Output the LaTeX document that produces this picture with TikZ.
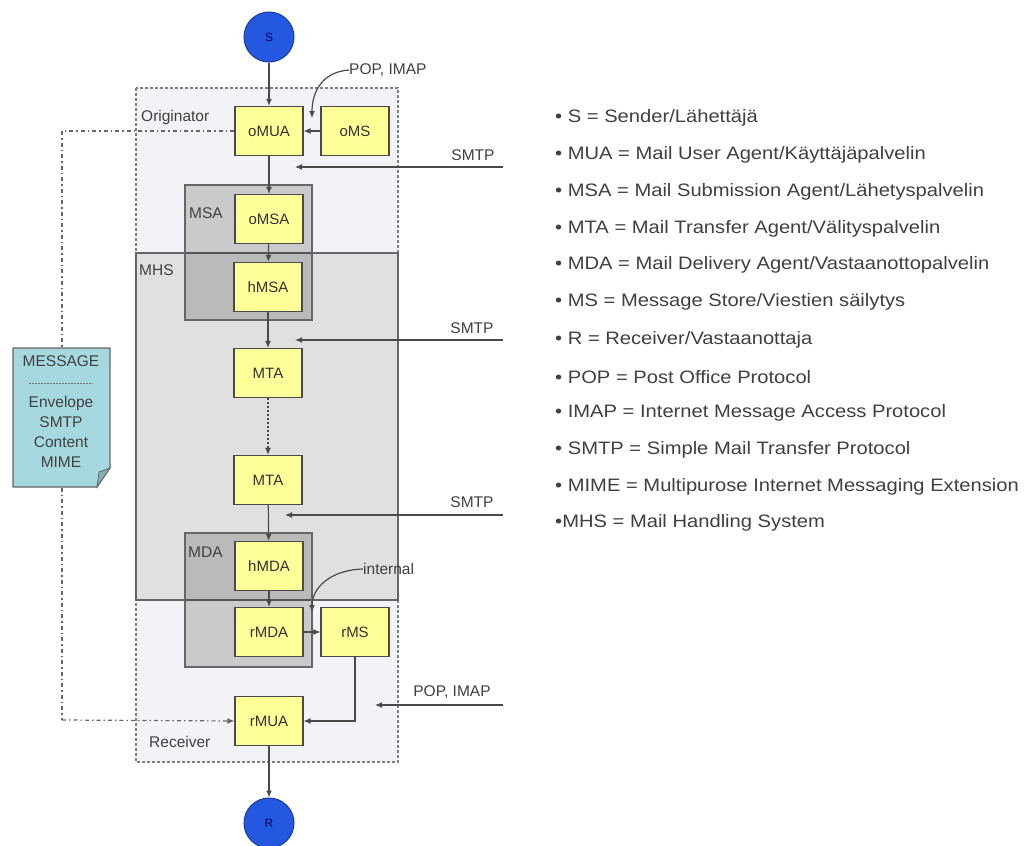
\documentclass[tikz,border=0pt]{standalone}
\usepackage{fontspec}
\setmainfont{Liberation Sans}
\newfontfamily\legendfont{Liberation Sans}[FakeStretch=1.12]
\usetikzlibrary{arrows.meta,calc}
\definecolor{boxy}{HTML}{FFFF99}
\definecolor{edgec}{HTML}{4A4A4A}
\definecolor{origfill}{HTML}{F3F3F7}
\definecolor{mhsfill}{HTML}{E0E0E0}
\definecolor{notefill}{HTML}{A6D8E0}
\definecolor{circfill}{HTML}{2458E0}
\definecolor{circedge}{HTML}{1A3A9A}
\tikzset{
  agent/.style={draw=edgec, fill=boxy, line width=1.2pt, minimum width=68pt, minimum height=49pt,
    inner sep=0pt, font=\fontsize{15}{16}\selectfont, text=black!80},
  endpoint/.style={circle, draw=circedge, fill=circfill, line width=1pt, minimum size=50pt, inner sep=0pt,
    font=\fontsize{12}{13}\selectfont, text=black!60!blue},
  flow/.style={draw=edgec, line width=1.2pt, -{Latex[length=7pt,width=6pt]}},
  msgflow/.style={draw=black!60, line width=1.2pt, dash pattern=on 4pt off 3pt on 1.5pt off 3pt},
  lbl/.style={font=\fontsize{15.5}{17}\selectfont, text=black!75, inner sep=0pt},
  notetext/.style={font=\fontsize{15.5}{16}\selectfont, text=black!75, inner sep=0pt},
  legend/.style={anchor=west, inner sep=0pt, font=\legendfont\fontsize{18}{20}\selectfont, text=black!75},
  orig/.style={draw=black!50, fill=origfill, line width=1.2pt, dash pattern=on 3pt off 2pt},
  mhsbox/.style={draw=black!60, fill=mhsfill, line width=1.2pt},
  subbox/.style={draw=black!60, fill=black, fill opacity=0.17, draw opacity=1, line width=1.2pt},
}
\begin{document}
\begin{tikzpicture}[x=1pt,y=-1pt]
\useasboundingbox (0,0) rectangle (1034,846);
\fill[white] (0,0) rectangle (1034,846);

% regions
\draw[orig] (136,88) rectangle (398,762);
\draw[mhsbox] (136,253) rectangle (398,600);
\draw[subbox] (185,185) rectangle (312,320);
\draw[subbox] (185,533) rectangle (312,667);

\node[lbl, anchor=west] (lorig) at (141,117) {Originator};
\node[lbl, anchor=west] (lmsa) at (189,213) {MSA};
\node[lbl, anchor=west] (lmhs) at (139,270) {MHS};
\node[lbl, anchor=west] (lmda) at (188,552) {MDA};
\node[lbl, anchor=west] (lrec) at (149,742) {Receiver};

% message connector (behind the note)
\coordinate (mtop) at (62,131);
\coordinate (mbot) at (62,720);

% nodes
\node[endpoint] (S) at (269,37) {S};
\node[endpoint] (R) at (269,823) {R};
\node[agent] (oMUA) at (269,131) {oMUA};
\node[agent] (oMS) at (355,131) {oMS};
\node[agent] (oMSA) at (269,219) {oMSA};
\node[agent] (hMSA) at (268,287) {hMSA};
\node[agent] (MTAa) at (268,373) {MTA};
\node[agent] (MTAb) at (268,480) {MTA};
\node[agent] (hMDA) at (269,566) {hMDA};
\node[agent] (rMDA) at (269,632) {rMDA};
\node[agent] (rMS) at (355,632) {rMS};
\node[agent] (rMUA) at (269,721) {rMUA};

\draw[msgflow] (oMUA.west) -- (mtop) -- (mbot);
\draw[msgflow, -{Latex[length=7pt,width=6pt]}] (mbot) -- (rMUA.west);

% note
\draw[draw=black!60, fill=notefill, line width=1.2pt] (13,348) -- (110,348) -- (110,468) -- (97,487) -- (13,487) -- cycle;
\draw[draw=black!60, fill=notefill!80!black, line width=0.8pt] (110,468) -- (99,472) -- (97,487) -- cycle;
\node[notetext] (nmsg) at (61,361) {MESSAGE};
\coordinate (sepL) at (29,383);
\coordinate (sepR) at (93,383);
\draw[black!55, line width=0.8pt, dash pattern=on 2pt off 1pt] (sepL) -- (sepR);
\node[notetext] (nenv) at (61,403) {Envelope};
\node[notetext] (nsmtp) at (61,422) {SMTP};
\node[notetext] (ncont) at (61,442) {Content};
\node[notetext] (nmime) at (61,462) {MIME};

% main flow
\draw[flow] (S) -- (oMUA);
\draw[flow] (oMS) -- (oMUA);
\draw[flow] (oMUA) -- (oMSA);
\draw[flow] (oMSA) -- (hMSA);
\draw[flow] (hMSA) -- (MTAa);
\draw[flow, dash pattern=on 2pt off 2pt] (MTAa) -- (MTAb);
\draw[flow] (MTAb) -- (hMDA);
\draw[flow] (hMDA) -- (rMDA);
\draw[flow] (rMDA) -- (rMS);
\draw[flow] (rMS.south) -- (rMS.south |- rMUA.east) -- (rMUA.east);
\draw[flow] (rMUA) -- (R);

% protocol arrows
\coordinate (s1a) at (503,167); \coordinate (s1b) at (295,167);
\coordinate (s2a) at (503,340); \coordinate (s2b) at (295,340);
\coordinate (s3a) at (503,515); \coordinate (s3b) at (285,515);
\coordinate (p2a) at (503,705); \coordinate (p2b) at (375,705);
\draw[flow] (s1a) -- (s1b);
\draw[flow] (s2a) -- (s2b);
\draw[flow] (s3a) -- (s3b);
\draw[flow] (p2a) -- (p2b);
\node[lbl] (ls1) at (473,155) {SMTP};
\node[lbl] (ls2) at (472,328) {SMTP};
\node[lbl] (ls3) at (472,502) {SMTP};
\node[lbl] (lp2) at (452,692) {POP, IMAP};

\node[lbl, anchor=west] (lp1) at (349,70) {POP, IMAP};
\coordinate (p1b) at (312,118);
\draw[flow] (lp1.west) .. controls (322,72) and (312,92) .. (p1b);
\node[lbl, anchor=west] (lint) at (363,569) {internal};
\coordinate (intb) at (312,612);
\draw[flow] (lint.west) .. controls (330,570) and (312,588) .. (intb);

% legend
\node[legend] (g1) at (555,118) {• S = Sender/Lähettäjä};
\node[legend] (g2) at (555,155) {• MUA = Mail User Agent/Käyttäjäpalvelin};
\node[legend] (g3) at (555,192) {• MSA = Mail Submission Agent/Lähetyspalvelin};
\node[legend] (g4) at (555,229) {• MTA = Mail Transfer Agent/Välityspalvelin};
\node[legend] (g5) at (555,265) {• MDA = Mail Delivery Agent/Vastaanottopalvelin};
\node[legend] (g6) at (555,302) {• MS = Message Store/Viestien säilytys};
\node[legend] (g7) at (555,340) {• R = Receiver/Vastaanottaja};
\node[legend] (g8) at (555,377) {• POP = Post Office Protocol};
\node[legend] (g9) at (555,413) {• IMAP = Internet Message Access Protocol};
\node[legend] (g10) at (555,450) {• SMTP = Simple Mail Transfer Protocol};
\node[legend] (g11) at (555,487) {• MIME = Multipurose Internet Messaging Extension};
\node[legend] (g12) at (555,523) {•MHS = Mail Handling System};
\end{tikzpicture}
\end{document}
